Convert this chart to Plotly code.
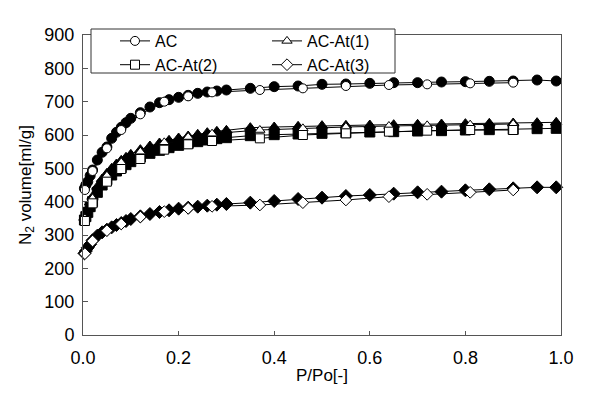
import plotly.graph_objects as go

# ---- data ----
p_fill = [0.003, 0.006, 0.01, 0.015, 0.02, 0.03, 0.04, 0.05, 0.06, 0.07, 0.08, 0.09, 0.10,
          0.12, 0.14, 0.16, 0.18, 0.20, 0.22, 0.24, 0.26, 0.28, 0.30, 0.35, 0.40, 0.45,
          0.50, 0.55, 0.60, 0.65, 0.70, 0.75, 0.80, 0.85, 0.90, 0.95, 0.99]
ac_fill = [440, 450, 460, 478, 495, 525, 548, 564, 590, 608, 623, 637, 650,
           667, 684, 697, 706, 713, 719, 725, 729, 732, 735, 740, 745, 747,
           752, 753, 755, 757, 757, 759, 760, 761, 762, 765, 762]
at1_fill = [352, 362, 378, 398, 415, 445, 468, 485, 500, 513, 524, 533, 542,
            556, 567, 576, 584, 591, 597, 602, 607, 611, 614, 622, 624, 626,
            628, 629, 630, 631, 632, 633, 634, 635, 636, 637, 638]
at2_fill = [345, 355, 368, 385, 400, 428, 450, 466, 480, 492, 502, 511, 520,
            534, 545, 554, 562, 569, 575, 580, 585, 589, 592, 598, 601, 603,
            605, 607, 609, 610, 612, 613, 615, 616, 617, 619, 620]
at3_fill = [245, 252, 262, 272, 284, 298, 308, 316, 323, 330, 336, 342, 348,
            356, 363, 369, 374, 379, 382, 385, 388, 391, 393, 397, 402, 408,
            412, 417, 420, 424, 428, 430, 434, 437, 440, 443, 443]

p_open = [0.004, 0.02, 0.05, 0.08, 0.12, 0.17, 0.22, 0.27, 0.37, 0.46, 0.55, 0.64, 0.72, 0.81, 0.90]
ac_open = [435, 492, 560, 615, 662, 700, 716, 728, 735, 740, 747, 750, 752, 755, 757]
at1_open = [350, 410, 478, 518, 550, 578, 594, 604, 615, 620, 624, 627, 629, 631, 633]
at2_open = [342, 395, 460, 498, 528, 556, 572, 582, 590, 600, 605, 610, 613, 615, 615]
at3_open = [244, 282, 313, 333, 354, 370, 380, 386, 390, 397, 405, 415, 422, 428, 435]

names = ["AC", "AC-At(1)", "AC-At(2)", "AC-At(3)"]
symbols = ["circle", "triangle-up", "square", "diamond"]
legend_ids = ["legend", "legend2", "legend", "legend2"]
fills = [ac_fill, at1_fill, at2_fill, at3_fill]
opens = [ac_open, at1_open, at2_open, at3_open]

FONT = "Liberation Sans, Arial, sans-serif"

# page body adds an 8px offset; work in screen pixels and subtract it
OFF = 8
L, R, T, B = 83 - OFF, 561 - OFF, 35 - OFF, 335 - OFF
PW, PH = R - L, B - T

def px_x(px):
    return (px - OFF - L) / PW

def px_y(py):
    return (B - (py - OFF)) / PH

fig = go.Figure()
for name, sym, yf in zip(names, symbols, fills):
    fig.add_trace(go.Scatter(
        x=p_fill, y=yf, mode="lines+markers", showlegend=False,
        line=dict(color="black", width=1),
        marker=dict(symbol=sym, size=10, color="black", line=dict(color="black", width=1)),
        cliponaxis=False))
for name, sym, yo, lg in zip(names, symbols, opens, legend_ids):
    fig.add_trace(go.Scatter(
        x=p_open, y=yo, mode="lines+markers", name=name, legend=lg,
        line=dict(color="black", width=1),
        marker=dict(symbol=sym, size=9, color="white", line=dict(color="black", width=1)),
        cliponaxis=False))

fig.add_shape(type="rect", xref="paper", yref="paper",
              x0=px_x(91), x1=px_x(395), y0=px_y(73), y1=px_y(29),
              line=dict(color="#333", width=1), fillcolor="white", layer="above")

leg_common = dict(yanchor="top", y=px_y(24), xanchor="left",
                  bgcolor="rgba(0,0,0,0)", borderwidth=0,
                  font=dict(size=16, family=FONT, color="black"))

fig.update_layout(
    width=600, height=395,
    margin=dict(l=L, r=600 - R, t=T, b=395 - B),
    plot_bgcolor="white", paper_bgcolor="white",
    font=dict(family=FONT, size=16, color="black"),
    legend=dict(x=px_x(115), **leg_common),
    legend2=dict(x=px_x(267), **leg_common),
    xaxis=dict(range=[0, 1], dtick=0.2, tickformat=".1f", ticks="inside", ticklen=4,
               showline=True, linecolor="#555", linewidth=1, mirror=True,
               showgrid=False, zeroline=False, tickcolor="#555",
               tickfont=dict(size=18), ticklabelstandoff=6, automargin=False,
               title=dict(text="P/Po[-]", font=dict(size=17), standoff=2)),
    yaxis=dict(range=[0, 900], dtick=100, ticks="inside", ticklen=5,
               showline=True, linecolor="#555", linewidth=1, mirror=True,
               showgrid=False, zeroline=False, tickcolor="#555",
               tickfont=dict(size=18), ticklabelstandoff=4, automargin=False,
               title=dict(text="N<sub>2</sub> volume[ml/g]", font=dict(size=17), standoff=8)),
)

fig.write_html("out.html")
